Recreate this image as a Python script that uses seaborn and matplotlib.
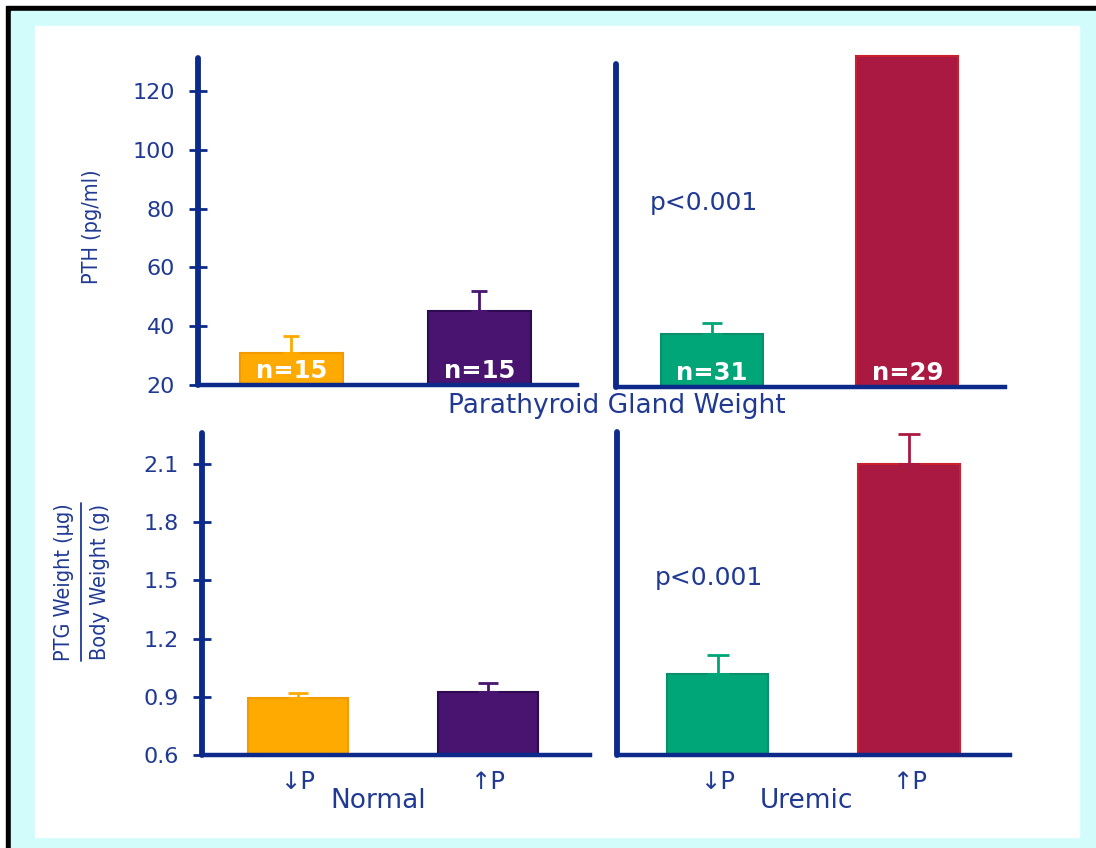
import matplotlib
matplotlib.use("Agg")
import matplotlib.pyplot as plt
from matplotlib.patches import Rectangle
from matplotlib.lines import Line2D
import seaborn as sns
import pandas as pd

# ---- data -------------------------------------------------------------
groups = ["Normal", "Normal", "Uremic", "Uremic"]
phosphorus = ["\u2193P", "\u2191P", "\u2193P", "\u2191P"]
pth_mean = [30.9, 45.2, 38.0, 132.6]
pth_sem = [5.8, 6.8, 3.8, 0.0]
ptg_mean = [0.894, 0.925, 1.018, 2.10]
ptg_sem = [0.026, 0.046, 0.097, 0.155]
n_labels = ["n=15", "n=15", "n=31", "n=29"]
pth_ticks = [20, 40, 60, 80, 100, 120]
ptg_ticks = [0.6, 0.9, 1.2, 1.5, 1.8, 2.1]

bar_colors = ["#FFAA00", "#481470", "#00A578", "#AA1941"]
edge_colors = ["#F29A00", "#2E0A52", "#0B8F6A", "#C8202E"]
navy = "#0B2A8A"
text_blue = "#203A94"

sns.set_style("white")
plt.rcParams["font.family"] = ["DejaVu Sans"]

W, H = 1096, 848
fig = plt.figure(figsize=(W / 100, H / 100), dpi=100)
fig.patch.set_facecolor("white")


def px_box(x0, y0, x1, y1):
    """Figure-fraction rectangle from pixel corners (top-left origin)."""
    return [x0 / W, 1 - y1 / H, (x1 - x0) / W, (y1 - y0) / H]


# frame: black edge, cyan mat, white card (kept behind the axes)
def frame_rect(x0, y0, x1, y1, color, z):
    fig.patches.append(Rectangle((x0 / W, 1 - y1 / H), (x1 - x0) / W, (y1 - y0) / H,
                                 transform=fig.transFigure, color=color, zorder=z))


frame_rect(6, 6, W, H, "black", -30)
frame_rect(11, 11, W, H, "#D2FCFC", -20)
frame_rect(35, 26, 1079, 837, "white", -10)


def panel(box, idx, means, sems, ylim, spine_top, xlim, width, ticks=None,
          ticklabels=None, xlabels=False, nlabels=False, capsize=7):
    ax = fig.add_axes(px_box(*box))
    ax.patch.set_alpha(0)
    df = pd.DataFrame({
        "cond": [phosphorus[i] + str(k) for k, i in enumerate(idx)],
        "value": [means[i] for i in idx],
    })
    sns.barplot(data=df, x="cond", y="value", hue="cond",
                palette=[bar_colors[i] for i in idx], width=width,
                legend=False, ax=ax, saturation=1)
    for p, i in zip(ax.patches, idx):
        p.set_edgecolor(edge_colors[i])
        p.set_linewidth(1.5)
    for k, i in enumerate(idx):
        if sems[i] > 0:
            ax.errorbar([k], [means[i]], yerr=[[0], [sems[i]]], fmt="none",
                        ecolor=bar_colors[i], elinewidth=2, capsize=capsize,
                        capthick=2, zorder=3)
        if nlabels:
            ax.text(k, ylim[0] + 0.6, n_labels[i], ha="center", va="bottom",
                    color="white", fontsize=17.5, fontweight="bold", zorder=4)
    ax.set_ylim(*ylim)
    ax.set_xlim(*xlim)
    ax.set_xlabel("")
    ax.set_ylabel("")
    for side in ("top", "right"):
        ax.spines[side].set_visible(False)
    ax.spines["left"].set_color(navy)
    ax.spines["left"].set_linewidth(4.2)
    ax.spines["left"].set_bounds(ylim[0], spine_top)
    ax.spines["left"].set_capstyle("round")
    ax.spines["bottom"].set_color(navy)
    ax.spines["bottom"].set_linewidth(3.2)
    if ticks is not None:
        ax.set_yticks(ticks)
        ax.set_yticklabels(ticklabels)
        ax.tick_params(axis="y", direction="inout", length=13, width=2,
                       color=navy, labelcolor=text_blue, labelsize=16, pad=10,
                       left=True)
    else:
        ax.set_yticks([])
    if xlabels:
        ax.set_xticks(range(len(idx)))
        ax.set_xticklabels([phosphorus[i] for i in idx])
        ax.tick_params(axis="x", length=0, labelcolor=text_blue,
                       labelsize=17.5, pad=11)
    else:
        ax.set_xticks([])
    return ax


# top row: PTH
panel((198, 58, 577, 385), [0, 1], pth_mean, pth_sem,
      ylim=(20, 131.2), spine_top=131.2, xlim=(-0.497, 1.52), width=0.55,
      ticks=pth_ticks, ticklabels=[str(t) for t in pth_ticks],
      nlabels=True, capsize=6)
ax_tr = panel((616, 52, 1005, 387), [2, 3], pth_mean, pth_sem,
              ylim=(20, 134.0), spine_top=129.9, xlim=(-0.49, 1.50), width=0.52,
              nlabels=True, capsize=7)
ax_tr.text(0.088, 0.549, "p<0.001", transform=ax_tr.transAxes, color=text_blue,
           fontsize=18, ha="left", va="center")

# bottom row: gland weight / body weight
panel((202, 433, 590, 755), [0, 1], ptg_mean, ptg_sem,
      ylim=(0.6, 2.26), spine_top=2.26, xlim=(-0.505, 1.537), width=0.53,
      ticks=ptg_ticks, ticklabels=[f"{t:.1f}" for t in ptg_ticks],
      xlabels=True, capsize=7)
ax_br = panel((617, 432, 1010, 755), [2, 3], ptg_mean, ptg_sem,
              ylim=(0.6, 2.265), spine_top=2.265, xlim=(-0.525, 1.527),
              width=0.53, xlabels=True, capsize=8)
ax_br.text(0.095, 0.548, "p<0.001", transform=ax_br.transAxes, color=text_blue,
           fontsize=18, ha="left", va="center")


def ftext(x, y, s, **kw):
    fig.text(x / W, 1 - y / H, s, **kw)


# condensed face for the rotated axis titles
cond = dict(family="DejaVu Sans", fontstretch="condensed", fontsize=15.5,
            color=text_blue, rotation=90, ha="center", va="center")
ftext(92, 227, "PTH (pg/ml)", **cond)
ftext(64, 582, "PTG Weight (\u00b5g)", **cond)
ftext(100, 582, "Body Weight (g)", **cond)
fig.add_artist(Line2D([81 / W, 81 / W], [1 - 661 / H, 1 - 503 / H],
                      color=text_blue, linewidth=1.3))

ftext(617, 406, "Parathyroid Gland Weight", ha="center", va="center",
      color=text_blue, fontsize=19)
ftext(378, 801, "Normal", ha="center", va="center", color=text_blue, fontsize=19)
ftext(807, 801, "Uremic", ha="center", va="center", color=text_blue, fontsize=19)

fig.savefig("out.png", dpi=100, facecolor=fig.get_facecolor())
